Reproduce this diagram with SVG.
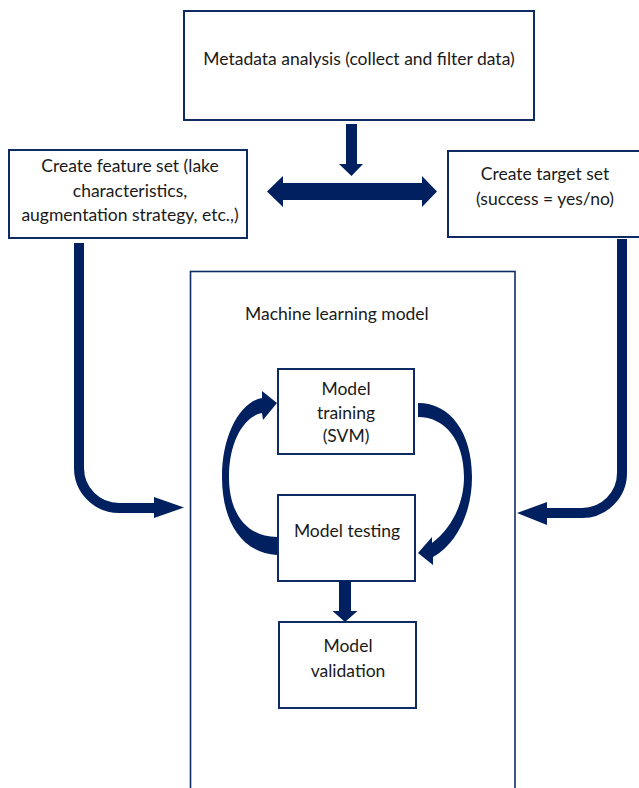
<svg xmlns="http://www.w3.org/2000/svg" width="639" height="788" viewBox="0 0 639 788">
<style>
.box{fill:#fff;stroke:#0f2b63;stroke-width:2}
.big{fill:none;stroke:#0f2b63;stroke-width:1.6}
.t{font-family:Lato,"Open Sans","Liberation Sans",sans-serif;font-size:17.5px;fill:#1a1a1a;text-anchor:middle}
.fill{fill:#002060}
.line{fill:none;stroke:#002060;stroke-width:10}
</style>
<rect width="639" height="788" fill="#fff"/>
<g id="ml-model">
<rect class="big" x="190.5" y="271.5" width="324.5" height="530"/>
<text class="t" x="245" y="320" style="text-anchor:start">Machine learning model</text>
</g>
<g id="metadata">
<rect class="box" x="184" y="11" width="350" height="109"/>
<text class="t" x="359" y="65">Metadata analysis (collect and filter data)</text>
</g>
<g id="feature-set">
<rect class="box" x="9" y="150" width="238" height="88"/>
<text class="t" x="130" y="172">Create feature set (lake</text>
<text class="t" x="130" y="197">characteristics,</text>
<text class="t" x="130" y="221">augmentation strategy, etc.,)</text>
</g>
<g id="target-set">
<rect class="box" x="448" y="151" width="194" height="86"/>
<text class="t" x="545" y="180">Create target set</text>
<text class="t" x="545" y="205">(success = yes/no)</text>
</g>
<g id="training">
<rect class="box" x="278" y="369" width="136" height="85"/>
<text class="t" x="346" y="395">Model</text>
<text class="t" x="346" y="419">training</text>
<text class="t" x="346" y="442">(SVM)</text>
</g>
<g id="testing">
<rect class="box" x="278" y="495" width="137" height="86"/>
<text class="t" x="347" y="537">Model testing</text>
</g>
<g id="validation">
<rect class="box" x="279" y="622" width="137" height="86"/>
<text class="t" x="348" y="652">Model</text>
<text class="t" x="348" y="677">validation</text>
</g>
<g id="connectors">
<polygon class="fill" points="346,124 357,124 357,164 363,164 351.5,176 339,164 346,164"/>
<polygon class="fill" points="267,191.5 283,176 283,183 422,183 422,176 437,191.5 422,207 422,200 283,200 283,207"/>
<path class="line" d="M79,243 V468 A40,40 0 0 0 119,508 H156"/>
<polygon class="fill" points="154,497 184,507.5 154,518"/>
<path class="line" d="M622,239 V473 A40,40 0 0 1 582,513 H546"/>
<polygon class="fill" points="547,502 517,513 547,525"/>
<path class="fill" d="M277,555 C242,553 222,522 222,477 C222,435 240,402 262,398 L262,391 L277,403 L263,420 L262,413 C245,416 229,440 229,477 C229,515 248,537 277,537 Z"/>
<path class="fill" d="M418,403 C450,403 472,432 472,477 C472,515 455,545 433,557 L433,565 L418,553 L432,537 L432,543 C450,530 464,505 464,477 C464,440 445,417 418,417 Z"/>
<polygon class="fill" points="339,581 351,581 351,611 357.5,611 345,622 332.5,611 339,611"/>
</g>
</svg>
